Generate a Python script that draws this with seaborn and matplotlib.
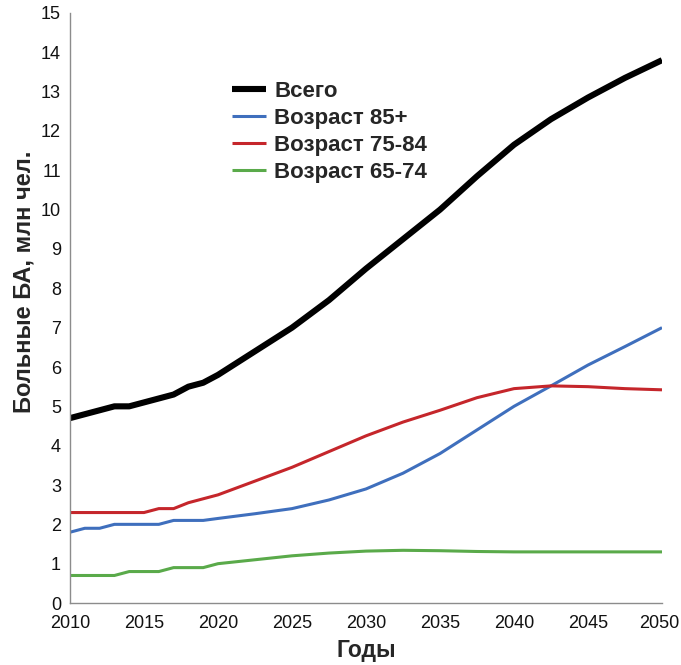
import numpy as np
import pandas as pd
import matplotlib
matplotlib.use("Agg")
import matplotlib.pyplot as plt
import matplotlib.transforms as mtransforms
import seaborn as sns

# values (millions of patients)
years = [2010, 2011, 2012, 2013, 2014, 2015, 2016, 2017, 2018, 2019, 2020,
         2022.5, 2025, 2027.5, 2030, 2032.5, 2035, 2037.5, 2040, 2042.5,
         2045, 2047.5, 2050]
total = [4.7, 4.8, 4.9, 5.0, 5.0, 5.1, 5.2, 5.3, 5.5, 5.6, 5.8,
         6.4, 7.0, 7.7, 8.5, 9.25, 10.0, 10.85, 11.65, 12.3, 12.85, 13.35, 13.8]
age_85 = [1.8, 1.9, 1.9, 2.0, 2.0, 2.0, 2.0, 2.1, 2.1, 2.1, 2.15,
          2.27, 2.4, 2.62, 2.9, 3.3, 3.8, 4.4, 5.0, 5.52, 6.05, 6.52, 7.0]
age_75_84 = [2.3, 2.3, 2.3, 2.3, 2.3, 2.3, 2.4, 2.4, 2.55, 2.65, 2.75,
             3.1, 3.45, 3.85, 4.25, 4.6, 4.9, 5.22, 5.45, 5.52, 5.5, 5.45, 5.42]
age_65_74 = [0.7, 0.7, 0.7, 0.7, 0.8, 0.8, 0.8, 0.9, 0.9, 0.9, 1.0,
             1.1, 1.2, 1.27, 1.32, 1.34, 1.33, 1.31, 1.3, 1.3, 1.3, 1.3, 1.3]

labels = ["Всего", "Возраст 85+", "Возраст 75-84", "Возраст 65-74"]
colors = ["#000000", "#3f6fbd", "#c5262b", "#5aaa4a"]
widths = [4.4, 2.2, 2.2, 2.2]

df = pd.DataFrame({"year": years, labels[0]: total, labels[1]: age_85,
                   labels[2]: age_75_84, labels[3]: age_65_74})
long = df.melt(id_vars="year", var_name="group", value_name="value")

sns.set_style("white")
plt.rcParams['font.family'] = ['Liberation Sans', 'DejaVu Sans']

fig, ax = plt.subplots(figsize=(6.81, 6.65), dpi=100)
fig.subplots_adjust(left=0.1028, right=0.9721, top=0.9805, bottom=0.0932)

for lab, col, lw in zip(labels, colors, widths):
    sub = long[long["group"] == lab]
    sns.lineplot(data=sub, x="year", y="value", ax=ax, color=col,
                 linewidth=lw, label=lab, solid_capstyle="butt",
                 solid_joinstyle="round")

ax.set_xlim(2010, 2050)
ax.set_ylim(0, 15)
ax.set_xticks(range(2010, 2051, 5))
ax.set_yticks(range(0, 16))

for t in ax.get_xticklabels() + ax.get_yticklabels():
    t.set_fontsize(13)
    t.set_color("#111111")

sns.despine(ax=ax)
for s in ["left", "bottom"]:
    ax.spines[s].set_color("#8c8c8c")
    ax.spines[s].set_linewidth(1.0)
ax.tick_params(axis="both", direction="out", length=3.5, width=1.0,
               color="#8c8c8c")
ax.tick_params(axis="x", pad=5)
ax.tick_params(axis="y", pad=3)

# last x label sits right at the figure edge, nudge it in a little
last = ax.get_xticklabels()[-1]
last.set_transform(last.get_transform() +
                   mtransforms.ScaledTranslation(-3 / 100, 0, fig.dpi_scale_trans))

ax.set_xlabel("Годы", fontsize=16.5, fontweight="bold", labelpad=5)
ax.set_ylabel("Больные БА, млн чел.", fontsize=17, fontweight="bold")
ax.yaxis.set_label_coords(-0.058, 0.544)

leg = ax.legend(loc="upper left", bbox_to_anchor=(0.274, 0.885), frameon=False,
                prop={"weight": "bold", "size": 16}, handlelength=1.5,
                handletextpad=0.4, labelspacing=0.27, borderpad=0,
                borderaxespad=0)

fig.savefig("out.png", dpi=100)
